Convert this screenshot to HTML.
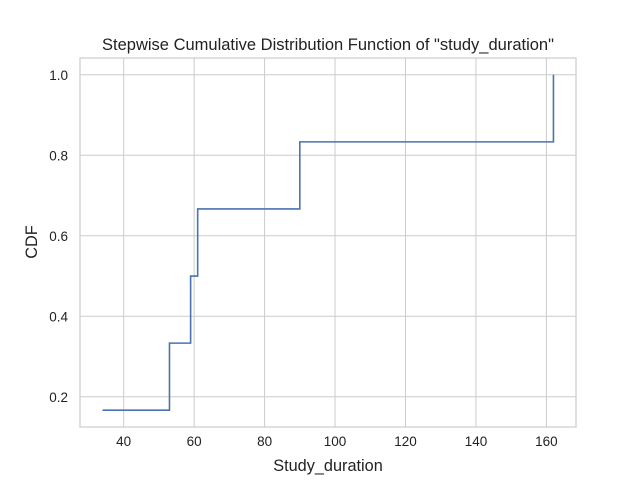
<!DOCTYPE html>
<html><head><meta charset="utf-8"><style>
html,body{margin:0;padding:0;background:#fff;}
svg{display:block;font-family:"Liberation Sans","DejaVu Sans",sans-serif;}
</style></head><body>
<svg id="chart" width="640" height="480">
<rect width="640" height="480" fill="#fff"/>
<g id="grid"></g>
<g id="ticks"></g>
<path id="line" fill="none" stroke="#4c72b0" stroke-width="1.6"/>
<rect x="80" y="58" width="496" height="369" fill="none" stroke="#ccc" stroke-width="1.2"/>
<text x="328" y="50" text-anchor="middle" font-size="16.5" fill="#222">Stepwise Cumulative Distribution Function of "study_duration"</text>
<text x="328" y="471" text-anchor="middle" font-size="16.3" fill="#222">Study_duration</text>
<text x="37" y="242" text-anchor="middle" font-size="16.3" fill="#222" transform="rotate(-90 37 242)">CDF</text>
</svg>
<script>
const xValues = [34, 53, 59, 61, 90, 162];
const cdfValues = [1/6, 2/6, 3/6, 4/6, 5/6, 1];
const xTicks = [40, 60, 80, 100, 120, 140, 160];
const yTicks = [0.2, 0.4, 0.6, 0.8, 1.0];

const L=80,R=576,T=58,B=427;
const xmin=Math.min(...xValues), xmax=Math.max(...xValues);
const ymin=Math.min(...cdfValues), ymax=Math.max(...cdfValues);
const xlo=xmin-(xmax-xmin)*0.05, xhi=xmax+(xmax-xmin)*0.05;
const ylo=ymin-(ymax-ymin)*0.05, yhi=ymax+(ymax-ymin)*0.05;
const sx=v=>L+(v-xlo)/(xhi-xlo)*(R-L);
const sy=v=>B-(v-ylo)/(yhi-ylo)*(B-T);
const NS="http://www.w3.org/2000/svg";
const grid=document.getElementById('grid'), ticks=document.getElementById('ticks');
xTicks.forEach(t=>{
  const l=document.createElementNS(NS,'line');
  l.setAttribute('x1',sx(t));l.setAttribute('x2',sx(t));l.setAttribute('y1',T);l.setAttribute('y2',B);
  l.setAttribute('stroke','#ccc');l.setAttribute('stroke-width','1');
  
  
  grid.appendChild(l);
  const tx=document.createElementNS(NS,'text');
  tx.setAttribute('x',sx(t));tx.setAttribute('y',B+19);tx.setAttribute('text-anchor','middle');
  tx.setAttribute('font-size','13.5');tx.setAttribute('fill','#222');tx.textContent=t;
  
  
  ticks.appendChild(tx);
});
yTicks.forEach(t=>{
  const l=document.createElementNS(NS,'line');
  l.setAttribute('y1',sy(t));l.setAttribute('y2',sy(t));l.setAttribute('x1',L);l.setAttribute('x2',R);
  l.setAttribute('stroke','#ccc');l.setAttribute('stroke-width','1');
  
  
  grid.appendChild(l);
  const tx=document.createElementNS(NS,'text');
  tx.setAttribute('x',L-12);tx.setAttribute('y',sy(t)+5);tx.setAttribute('text-anchor','end');
  tx.setAttribute('font-size','13.5');tx.setAttribute('fill','#222');tx.textContent=t.toFixed(1);
  
  
  ticks.appendChild(tx);
});
let d='M'+sx(xValues[0])+','+sy(cdfValues[0]);
for(let i=1;i<xValues.length;i++){
  d+=' L'+sx(xValues[i])+','+sy(cdfValues[i-1])+' L'+sx(xValues[i])+','+sy(cdfValues[i]);
}
document.getElementById('line').setAttribute('d',d);
</script>
</body></html>
